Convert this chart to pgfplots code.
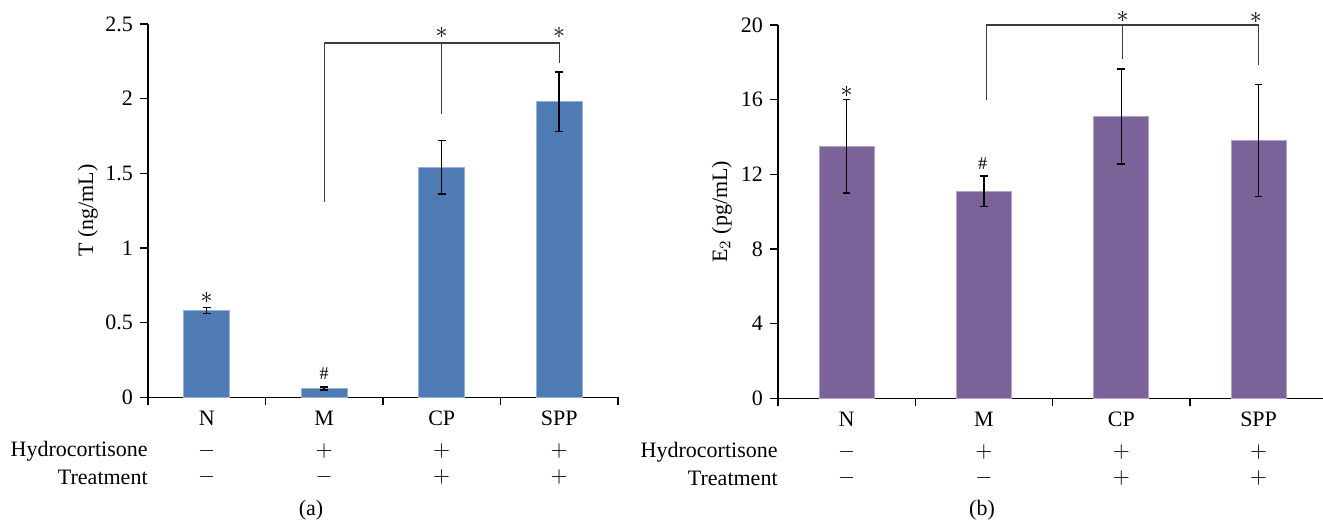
\documentclass[border=0pt]{standalone}
\usepackage{fontspec}
\setmainfont{Liberation Serif}
\usepackage{pgfplots}
\pgfplotsset{compat=1.18}
\definecolor{tblue}{RGB}{79,123,181}
\definecolor{tblueedge}{RGB}{150,178,215}
\definecolor{epurple}{RGB}{123,98,153}
\definecolor{epurpleedge}{RGB}{180,160,205}
\definecolor{brk}{RGB}{60,60,60}
\newcommand{\lblfont}{\fontsize{11}{13}\selectfont}
\tikzset{
  brkt/.style={draw=brk, line width=0.6pt},
  star/.style={font=\fontsize{13}{14}\selectfont, inner sep=0pt},
  hash/.style={font=\fontsize{9}{10}\selectfont, inner sep=0pt},
  rowlbl/.style={font=\lblfont, anchor=east, inner sep=0pt},
}
\pgfplotsset{
  panel/.style={
    scale only axis, clip=false,
    axis lines*=left, enlargelimits=false,
    tick align=outside, major tick length=4pt,
    axis line style={line width=0.7pt},
    tick style={line width=0.7pt, black},
    xtick={-0.5,0.5,...,3.5}, xticklabels={},
    xmin=-0.5, ymin=0,
    ybar, bar shift=0pt,
    tick label style={font=\lblfont},
    /pgf/number format/assume math mode=true,
    label style={font=\lblfont},
    error bars/error bar style={line width=0.75pt, black},
    error bars/error mark options={rotate=90, line width=0.75pt, black, mark size=1.9pt},
  },
}
\begin{document}
\begin{tikzpicture}
\useasboundingbox (0,0) rectangle (661.5pt,261.5pt);
% (a) testosterone
\begin{axis}[panel,
  at={(74pt,62.85pt)}, anchor=south west,
  width=235pt, height=186.65pt,
  xmax=3.5, ymax=2.5,
  ytick={0,0.5,1,1.5,2,2.5},
  yticklabels={0,0.5,1,1.5,2,2.5},
  bar width=23pt,
  ylabel={T (ng/mL)},
  ylabel style={at={(axis description cs:-0.128,0.5)}, anchor=center},
]
\addplot[fill=tblue, draw=tblueedge, line width=0.4pt,
  error bars/.cd, y dir=both, y explicit]
  coordinates {(0,0.58) +- (0,0.02) (1,0.06) +- (0,0.01) (2,1.54) +- (0,0.18) (3,1.98) +- (0,0.20)};
\draw[brkt] (axis cs:1,1.31) -- (axis cs:1,2.373) -- (axis cs:3,2.373) -- (axis cs:3,2.24);
\draw[brkt] (axis cs:2,2.373) -- (axis cs:2,1.90);
\node[star] at (axis cs:2,2.44) {$\ast$};
\node[star] at (axis cs:3,2.44) {$\ast$};
\node[star] at (axis cs:0,0.665) {$\ast$};
\node[hash] at (axis cs:1,0.16) {\#};
\node[font=\lblfont] at ([yshift=-10.5pt]axis cs:0,0) {N};
\node[font=\lblfont] at ([yshift=-10.5pt]axis cs:1,0) {M};
\node[font=\lblfont] at ([yshift=-10.5pt]axis cs:2,0) {CP};
\node[font=\lblfont] at ([yshift=-10.5pt]axis cs:3,0) {SPP};
\node[rowlbl] at ([yshift=-27pt]axis cs:-0.5,0) {Hydrocortisone};
\node[rowlbl] at ([yshift=-40pt]axis cs:-0.5,0) {Treatment};
\node[font=\lblfont] at ([yshift=-27pt]axis cs:0,0) {$-$};
\node[font=\lblfont] at ([yshift=-27pt]axis cs:1,0) {$+$};
\node[font=\lblfont] at ([yshift=-27pt]axis cs:2,0) {$+$};
\node[font=\lblfont] at ([yshift=-27pt]axis cs:3,0) {$+$};
\node[font=\lblfont] at ([yshift=-40pt]axis cs:0,0) {$-$};
\node[font=\lblfont] at ([yshift=-40pt]axis cs:1,0) {$-$};
\node[font=\lblfont] at ([yshift=-40pt]axis cs:2,0) {$+$};
\node[font=\lblfont] at ([yshift=-40pt]axis cs:3,0) {$+$};
\end{axis}
\node[font=\lblfont] at (155.5pt,6.5pt) {(a)};
% (b) estradiol
\begin{axis}[panel,
  at={(389pt,62.35pt)}, anchor=south west,
  width=272.5pt, height=186.65pt,
  xmax=3.469, ymax=20,
  ytick={0,4,8,12,16,20},
  bar width=27.5pt,
  ylabel={E$_2$ (pg/mL)},
  ylabel style={at={(axis description cs:-0.103,0.5)}, anchor=center},
]
\addplot[fill=epurple, draw=epurpleedge, line width=0.4pt,
  error bars/.cd, y dir=both, y explicit]
  coordinates {(0,13.5) +- (0,2.5) (1,11.1) +- (0,0.82) (2,15.1) +- (0,2.55) (3,13.8) +- (0,3.0)};
\draw[brkt] (axis cs:1.02,16.0) -- (axis cs:1.02,20) -- (axis cs:3,20) -- (axis cs:3,17.85);
\draw[brkt] (axis cs:2.01,20) -- (axis cs:2.01,18.2);
\node[star] at (axis cs:2.01,20.42) {$\ast$};
\node[star] at (axis cs:2.98,20.4) {$\ast$};
\node[star] at (axis cs:0,16.4) {$\ast$};
\node[hash] at (axis cs:0.99,12.6) {\#};
\node[font=\lblfont] at ([yshift=-10.5pt]axis cs:0,0) {N};
\node[font=\lblfont] at ([yshift=-10.5pt]axis cs:1,0) {M};
\node[font=\lblfont] at ([yshift=-10.5pt]axis cs:2,0) {CP};
\node[font=\lblfont] at ([yshift=-10.5pt]axis cs:3,0) {SPP};
\node[rowlbl] at ([yshift=-27pt]axis cs:-0.5,0) {Hydrocortisone};
\node[rowlbl] at ([yshift=-40pt]axis cs:-0.5,0) {Treatment};
\node[font=\lblfont] at ([yshift=-27pt]axis cs:0,0) {$-$};
\node[font=\lblfont] at ([yshift=-27pt]axis cs:1,0) {$+$};
\node[font=\lblfont] at ([yshift=-27pt]axis cs:2,0) {$+$};
\node[font=\lblfont] at ([yshift=-27pt]axis cs:3,0) {$+$};
\node[font=\lblfont] at ([yshift=-40pt]axis cs:0,0) {$-$};
\node[font=\lblfont] at ([yshift=-40pt]axis cs:1,0) {$-$};
\node[font=\lblfont] at ([yshift=-40pt]axis cs:2,0) {$+$};
\node[font=\lblfont] at ([yshift=-40pt]axis cs:3,0) {$+$};
\end{axis}
\node[font=\lblfont] at (491pt,6.5pt) {(b)};
\end{tikzpicture}
\end{document}
